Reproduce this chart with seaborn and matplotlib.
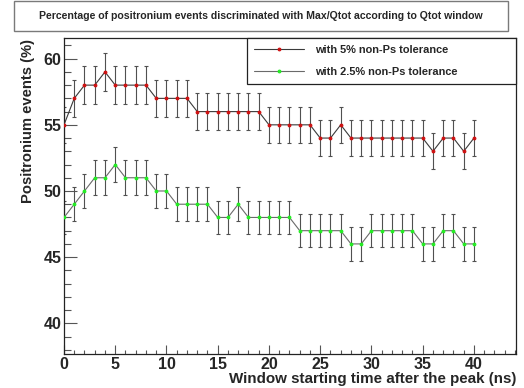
import matplotlib
matplotlib.use("Agg")
import matplotlib.pyplot as plt
from matplotlib.ticker import MultipleLocator
from matplotlib.patches import Rectangle
import numpy as np
import pandas as pd
import seaborn as sns

# Window start times (ns)
window_start = list(range(0, 41))

# Percentage of positronium events, 5% non-Ps tolerance
ps_tol5 = [55, 57, 58, 58, 59, 58, 58, 58, 58, 57, 57, 57, 57, 56, 56, 56, 56, 56, 56, 56,
           55, 55, 55, 55, 55, 54, 54, 55, 54, 54, 54, 54, 54, 54, 54, 54, 53, 54, 54, 53, 54]
err_tol5 = [1.37, 1.40, 1.41, 1.41, 1.42, 1.41, 1.41, 1.41, 1.41, 1.40, 1.40, 1.40, 1.40, 1.39,
            1.39, 1.39, 1.39, 1.39, 1.39, 1.39, 1.37, 1.37, 1.37, 1.37, 1.37, 1.36, 1.36, 1.37,
            1.36, 1.36, 1.36, 1.36, 1.36, 1.36, 1.36, 1.36, 1.35, 1.36, 1.36, 1.35, 1.36]

# Percentage of positronium events, 2.5% non-Ps tolerance
ps_tol25 = [48, 49, 50, 51, 51, 52, 51, 51, 51, 50, 50, 49, 49, 49, 49, 48, 48, 49, 48, 48,
            48, 48, 48, 47, 47, 47, 47, 47, 46, 46, 47, 47, 47, 47, 47, 46, 46, 47, 47, 46, 46]
err_tol25 = [1.28, 1.30, 1.31, 1.32, 1.32, 1.34, 1.32, 1.32, 1.32, 1.31, 1.31, 1.30, 1.30, 1.30,
             1.30, 1.28, 1.28, 1.30, 1.28, 1.28, 1.28, 1.28, 1.28, 1.27, 1.27, 1.27, 1.27, 1.27,
             1.26, 1.26, 1.27, 1.27, 1.27, 1.27, 1.27, 1.26, 1.26, 1.27, 1.27, 1.26, 1.26]

labels = ["with 5% non-Ps tolerance", "with 2.5% non-Ps tolerance"]
title = "Percentage of positronium events discriminated with Max/Qtot according to Qtot window"
xlabel = "Window starting time after the peak (ns)"
ylabel = "Positronium events (%)"

sns.set_theme(style="white")
plt.rcParams["font.family"] = ["Liberation Sans", "DejaVu Sans"]
plt.rcParams["font.weight"] = "bold"

W, H = 524, 388
fig = plt.figure(figsize=(W / 100, H / 100), dpi=100)
ax = fig.add_axes([64 / W, 1 - 354 / H, (516 - 64) / W, (354 - 37.5) / H])

series = [
    (ps_tol5, err_tol5, "#d01010", "#3a3a3a", labels[0]),
    (ps_tol25, err_tol25, "#22ee22", "#6a6a6a", labels[1]),
]
for vals, errs, mcol, lcol, lab in series:
    ax.errorbar(window_start, vals, yerr=errs, fmt="none", ecolor="#505050",
                elinewidth=0.8, capsize=1.6, capthick=0.8, zorder=2)
    df = pd.DataFrame({"t": window_start, "pct": vals})
    sns.lineplot(data=df, x="t", y="pct", ax=ax, color=lcol, linewidth=0.8,
                 marker="o", markersize=2.0, markerfacecolor=mcol,
                 markeredgecolor=mcol, label=lab, zorder=3)

ax.set_xlim(0, 44.1)
ax.set_ylim(37.68, 61.6)
ax.xaxis.set_major_locator(MultipleLocator(5))
ax.xaxis.set_minor_locator(MultipleLocator(1))
ax.yaxis.set_major_locator(MultipleLocator(5))
ax.yaxis.set_minor_locator(MultipleLocator(1))
ax.tick_params(axis="x", which="major", direction="in", length=6.5, width=0.8,
               color="#555555", labelsize=11.5, pad=2.2, bottom=True)
ax.tick_params(axis="x", which="minor", direction="in", length=3, width=0.8,
               color="#555555", bottom=True)
ax.tick_params(axis="y", which="major", direction="in", length=9.4, width=0.8,
               color="#555555", labelsize=11.5, pad=1.7, left=True)
ax.tick_params(axis="y", which="minor", direction="in", length=5, width=0.8,
               color="#555555", left=True)
for lab in ax.get_xticklabels() + ax.get_yticklabels():
    lab.set_fontweight("bold")
for sp in ax.spines.values():
    sp.set_color("#222222")
    sp.set_linewidth(0.9)
ax.set_xlabel("")
ax.set_ylabel("")

fig.text(516 / W, 1 - 379 / H, xlabel, ha="right", va="center",
         fontsize=10.9, fontweight="bold")
fig.text(28 / W, 1 - 39 / H, ylabel, ha="center", va="top", rotation=90,
         fontsize=10.6, fontweight="bold")

# Title box
fig.patches.append(Rectangle((13.5 / W, 1 - 31 / H), (507.5 - 13.5) / W, 30 / H,
                             transform=fig.transFigure, facecolor="white",
                             edgecolor="#7a7a7a", linewidth=1.0))
fig.text(260.5 / W, 1 - 16 / H, title, ha="center", va="center",
         fontsize=7.6, fontweight="bold")

leg = ax.legend(loc="upper left",
                bbox_to_anchor=(246.7 / W, 1 - 84 / H, (516 - 246.7) / W, (84 - 37.5) / H),
                bbox_transform=fig.transFigure, mode="expand", borderaxespad=0,
                frameon=True, fancybox=False, framealpha=1, edgecolor="#222222",
                prop={"size": 7.9, "weight": "bold"}, handlelength=4.6,
                handletextpad=1.0, labelspacing=1.15, borderpad=0.65, numpoints=1)
leg.get_frame().set_linewidth(0.9)

fig.savefig("out.png", dpi=100)
